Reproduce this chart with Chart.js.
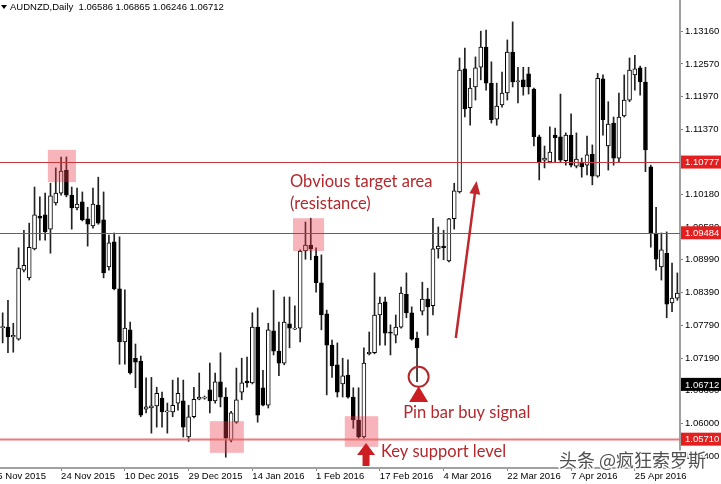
<!DOCTYPE html>
<html>
<head>
<meta charset="utf-8">
<title>AUDNZD Daily</title>
<script src="https://cdn.jsdelivr.net/npm/chart.js@4.4.1/dist/chart.umd.min.js"></script>
<style>
    html, body { margin: 0; padding: 0; background: #ffffff; }
    #wrap { width: 721px; height: 484px; position: relative; }
</style>
</head>
<body>
<div id="wrap"><canvas id="chart"></canvas></div>
<script>
// Daily AUDNZD candles (one entry per bar)
const opens = [
    1.0775, 1.0776, 1.0758, 1.0754, 1.0880, 1.0866, 1.0919, 1.0979, 1.0981, 1.0955,
    1.1003, 1.1021, 1.1063, 1.1017, 1.0994, 1.1005, 1.0974, 1.0961, 1.0999, 1.0972,
    1.0886, 1.0932, 1.0846, 1.0749, 1.0771, 1.0719, 1.0714, 1.0626, 1.0628, 1.0632,
    1.0646, 1.0621, 1.0621, 1.0637, 1.0641, 1.0575, 1.0612, 1.0644, 1.0646, 1.0661,
    1.0641, 1.0676, 1.0648, 1.0569, 1.0602, 1.0657, 1.0677, 1.0674, 1.0776, 1.0665,
    1.0633, 1.0769, 1.0732, 1.0710, 1.0782, 1.0772, 1.0774, 1.0915, 1.0926, 1.0906,
    1.0857, 1.0800, 1.0743, 1.0707, 1.0672, 1.0688, 1.0648, 1.0606, 1.0575, 1.0727,
    1.0729, 1.0798, 1.0822, 1.0767, 1.0761, 1.0776, 1.0836, 1.0802, 1.0756, 1.0805,
    1.0827, 1.0815, 1.0919, 1.0924, 1.0897, 1.0974, 1.1023, 1.1248, 1.1177, 1.1215,
    1.1251, 1.1288, 1.1222, 1.1156, 1.1182, 1.1204, 1.1279, 1.1224, 1.1228, 1.1239,
    1.1211, 1.1124, 1.1081, 1.1078, 1.1127, 1.1124, 1.1080, 1.1127, 1.1070, 1.1076,
    1.1072, 1.1092, 1.1052, 1.1230, 1.1107, 1.1149, 1.1085, 1.1162, 1.1191, 1.1237,
    1.1250, 1.1224, 1.1069, 1.0948, 1.0886, 1.0911, 1.0820, 1.0829
];
const highs = [
    1.0802, 1.0825, 1.0783, 1.0921, 1.0953, 1.0966, 1.1032, 1.1014, 1.1021, 1.1039,
    1.1067, 1.1087, 1.1087, 1.1032, 1.1030, 1.1023, 1.0995, 1.1030, 1.1050, 1.1023,
    1.0944, 1.0948, 1.0941, 1.0844, 1.0785, 1.0745, 1.0723, 1.0683, 1.0684, 1.0666,
    1.0657, 1.0637, 1.0679, 1.0683, 1.0679, 1.0633, 1.0666, 1.0692, 1.0650, 1.0710,
    1.0692, 1.0729, 1.0665, 1.0622, 1.0701, 1.0719, 1.0721, 1.0802, 1.0811, 1.0697,
    1.0783, 1.0843, 1.0785, 1.0831, 1.0831, 1.0815, 1.0917, 1.0968, 1.0975, 1.0921,
    1.0908, 1.0807, 1.0752, 1.0747, 1.0719, 1.0716, 1.0665, 1.0665, 1.0738, 1.0767,
    1.0875, 1.0831, 1.0831, 1.0780, 1.0798, 1.0849, 1.0875, 1.0813, 1.0767, 1.0858,
    1.0847, 1.0975, 1.0959, 1.0953, 1.0975, 1.1039, 1.1268, 1.1286, 1.1231, 1.1270,
    1.1317, 1.1319, 1.1261, 1.1222, 1.1242, 1.1301, 1.1334, 1.1251, 1.1251, 1.1251,
    1.1213, 1.1127, 1.1107, 1.1142, 1.1140, 1.1202, 1.1131, 1.1166, 1.1131, 1.1085,
    1.1125, 1.1109, 1.1240, 1.1237, 1.1188, 1.1160, 1.1204, 1.1237, 1.1268, 1.1273,
    1.1253, 1.1251, 1.1072, 1.0995, 1.0948, 1.0950, 1.0893, 1.0875
];
const lows = [
    1.0747, 1.0729, 1.0730, 1.0752, 1.0877, 1.0862, 1.0917, 1.0935, 1.0935, 1.0911,
    1.0999, 1.1017, 1.1014, 1.0955, 1.0990, 1.0970, 1.0924, 1.0957, 1.0964, 1.0866,
    1.0880, 1.0844, 1.0708, 1.0708, 1.0690, 1.0665, 1.0612, 1.0619, 1.0582, 1.0593,
    1.0593, 1.0582, 1.0612, 1.0624, 1.0575, 1.0567, 1.0610, 1.0643, 1.0644, 1.0619,
    1.0637, 1.0630, 1.0538, 1.0566, 1.0600, 1.0643, 1.0666, 1.0672, 1.0602, 1.0632,
    1.0628, 1.0725, 1.0687, 1.0707, 1.0738, 1.0771, 1.0749, 1.0900, 1.0899, 1.0840,
    1.0771, 1.0652, 1.0684, 1.0648, 1.0648, 1.0646, 1.0591, 1.0573, 1.0573, 1.0725,
    1.0727, 1.0743, 1.0743, 1.0725, 1.0747, 1.0774, 1.0793, 1.0752, 1.0676, 1.0798,
    1.0761, 1.0798, 1.0902, 1.0899, 1.0895, 1.0955, 1.1021, 1.1160, 1.1145, 1.1191,
    1.1228, 1.1209, 1.1149, 1.1145, 1.1178, 1.1191, 1.1215, 1.1186, 1.1200, 1.1202,
    1.1107, 1.1045, 1.1067, 1.1076, 1.1078, 1.1078, 1.1072, 1.1069, 1.1067, 1.1050,
    1.1054, 1.1036, 1.1050, 1.1127, 1.1063, 1.1072, 1.1078, 1.1160, 1.1188, 1.1209,
    1.1200, 1.1060, 1.0922, 1.0880, 1.0862, 1.0793, 1.0804, 1.0825
];
const closes = [
    1.0776, 1.0758, 1.0761, 1.0884, 1.0889, 1.0922, 1.0981, 1.0975, 1.0950, 1.1016,
    1.1021, 1.1061, 1.1017, 1.0994, 1.1001, 1.0972, 1.0964, 1.1001, 1.0966, 1.0875,
    1.0930, 1.0846, 1.0749, 1.0774, 1.0692, 1.0712, 1.0615, 1.0630, 1.0632, 1.0655,
    1.0621, 1.0622, 1.0633, 1.0655, 1.0593, 1.0612, 1.0644, 1.0648, 1.0648, 1.0641,
    1.0676, 1.0648, 1.0573, 1.0619, 1.0643, 1.0674, 1.0674, 1.0776, 1.0615, 1.0633,
    1.0771, 1.0732, 1.0710, 1.0785, 1.0774, 1.0774, 1.0915, 1.0926, 1.0919, 1.0857,
    1.0798, 1.0743, 1.0705, 1.0657, 1.0687, 1.0648, 1.0606, 1.0575, 1.0710, 1.0730,
    1.0798, 1.0820, 1.0765, 1.0765, 1.0776, 1.0838, 1.0802, 1.0754, 1.0738, 1.0827,
    1.0813, 1.0919, 1.0924, 1.0921, 1.0974, 1.1025, 1.1246, 1.1175, 1.1213, 1.1250,
    1.1288, 1.1222, 1.1155, 1.1180, 1.1204, 1.1279, 1.1224, 1.1226, 1.1215, 1.1215,
    1.1124, 1.1078, 1.1085, 1.1096, 1.1122, 1.1081, 1.1127, 1.1072, 1.1083, 1.1069,
    1.1091, 1.1052, 1.1231, 1.1155, 1.1147, 1.1085, 1.1160, 1.1191, 1.1246, 1.1248,
    1.1224, 1.1100, 1.0948, 1.0900, 1.0917, 1.0818, 1.0829, 1.0838
];

// Time axis: bar index where each date label starts
const xTickBars = [-1, 11, 23, 35, 47, 59, 71, 83, 95, 107, 119];
const xTickLabels = ['5 Nov 2015', '24 Nov 2015', '10 Dec 2015', '29 Dec 2015', '14 Jan 2016',
    '1 Feb 2016', '17 Feb 2016', '4 Mar 2016', '22 Mar 2016', '7 Apr 2016', '25 Apr 2016'];

// Price axis labels as MT4 shows them
const yTicks = [1.13160, 1.12570, 1.11970, 1.11370, 1.10780, 1.10180, 1.09580,
    1.08990, 1.08390, 1.07790, 1.07190, 1.06600, 1.06000, 1.05400];

// Horizontal levels and price tags
const levels = [1.10777, 1.09484, 1.05710];
const lastPrice = 1.06712;
const header = 'AUDNZD,Daily  1.06586 1.06865 1.06246 1.06712';

// Highlighted zones (bar range, price range)
const zones = [
    { from: 8.5, to: 13.8, top: 1.1100, bottom: 1.1041 },
    { from: 54.65, to: 60.5, top: 1.0975, bottom: 1.0915 },
    { from: 39.0, to: 45.4, top: 1.0604, bottom: 1.0546 },
    { from: 64.4, to: 70.7, top: 1.0613, bottom: 1.0557 }
];

const RED_TEXT = '#b3282d';
const FONT = '"Liberation Sans", Arial, sans-serif';

const overlayPlugin = {
    id: 'overlay',
    afterDraw(chart) {
        const { ctx, chartArea: area, scales: { x, y } } = chart;
        const px = v => x.getPixelForValue(v);
        const py = v => y.getPixelForValue(v);
        ctx.save();

        // pink zones over the candles
        ctx.fillStyle = 'rgba(235, 60, 75, 0.38)';
        zones.forEach(z => {
            const x0 = px(z.from), x1 = px(z.to);
            const y0 = py(z.top), y1 = py(z.bottom);
            ctx.fillRect(x0, y0, x1 - x0, y1 - y0);
        });

        // level lines
        levels.forEach((lv, i) => {
            const yy = Math.round(py(lv)) + 0.5;
            ctx.beginPath();
            if (i === levels.length - 1) {
                ctx.strokeStyle = 'rgba(232, 100, 105, 0.85)';
                ctx.lineWidth = 2;
            } else {
                ctx.strokeStyle = '#c4383c';
                ctx.lineWidth = 1;
            }
            ctx.moveTo(area.left, yy);
            ctx.lineTo(area.right, yy);
            ctx.stroke();
        });

        // price tags on the right axis
        const tag = (v, fill) => {
            const yy = py(v);
            ctx.fillStyle = fill;
            ctx.fillRect(area.right + 1, yy - 6.5, 41, 13);
            ctx.fillStyle = '#ffffff';
            ctx.font = '9.5px ' + FONT;
            ctx.textAlign = 'left';
            ctx.textBaseline = 'middle';
            ctx.fillText(v.toFixed(5), area.right + 5, yy + 0.5);
        };
        levels.forEach(lv => tag(lv, '#e41f1f'));
        tag(lastPrice, '#000000');

        // annotation texts
        ctx.fillStyle = RED_TEXT;
        ctx.font = '16.5px Lato, ' + FONT;
        ctx.textAlign = 'left';
        ctx.textBaseline = 'middle';
        ctx.fillText('Obvious target area', px(54.1), py(1.1041));
        ctx.fillText('(resistance)', px(54.1), py(1.1002));
        ctx.fillText('Pin bar buy signal', px(75.4), py(1.0619));
        ctx.fillText('Key support level', px(71.2), py(1.0549));

        // circle + triangle under the pin bar
        const cx = px(78.3);
        ctx.strokeStyle = RED_TEXT;
        ctx.lineWidth = 2;
        ctx.beginPath();
        ctx.arc(cx, py(1.0685), 10, 0, Math.PI * 2);
        ctx.stroke();
        ctx.fillStyle = '#cc1d22';
        ctx.beginPath();
        ctx.moveTo(cx, py(1.0668));
        ctx.lineTo(cx + 9.5, py(1.0639));
        ctx.lineTo(cx - 9.5, py(1.0639));
        ctx.closePath();
        ctx.fill();

        // long arrow to the target area
        const ax0 = px(85.3), ay0 = py(1.0756);
        const ax1 = px(89.2), ay1 = py(1.1043);
        const ang = Math.atan2(ay1 - ay0, ax1 - ax0);
        ctx.strokeStyle = '#c0282d';
        ctx.lineWidth = 2.5;
        ctx.beginPath();
        ctx.moveTo(ax0, ay0);
        ctx.lineTo(ax1 - 10 * Math.cos(ang), ay1 - 10 * Math.sin(ang));
        ctx.stroke();
        ctx.fillStyle = '#c0282d';
        ctx.beginPath();
        ctx.moveTo(ax1, ay1);
        ctx.lineTo(ax1 - 13 * Math.cos(ang) + 5.5 * Math.sin(ang), ay1 - 13 * Math.sin(ang) - 5.5 * Math.cos(ang));
        ctx.lineTo(ax1 - 13 * Math.cos(ang) - 5.5 * Math.sin(ang), ay1 - 13 * Math.sin(ang) + 5.5 * Math.cos(ang));
        ctx.closePath();
        ctx.fill();

        // up arrow under the support zone
        const sx = px(68.4);
        const tip = py(1.0564), base = py(1.0542), foot = py(1.0522);
        ctx.fillStyle = '#cc1d22';
        ctx.beginPath();
        ctx.moveTo(sx, tip);
        ctx.lineTo(sx + 9, base);
        ctx.lineTo(sx + 3.5, base);
        ctx.lineTo(sx + 3.5, foot);
        ctx.lineTo(sx - 3.5, foot);
        ctx.lineTo(sx - 3.5, base);
        ctx.lineTo(sx - 9, base);
        ctx.closePath();
        ctx.fill();

        // header (symbol + OHLC)
        ctx.fillStyle = '#000000';
        ctx.beginPath();
        ctx.moveTo(1, 5);
        ctx.lineTo(7, 5);
        ctx.lineTo(4, 9);
        ctx.closePath();
        ctx.fill();
        ctx.font = '9.5px ' + FONT;
        ctx.textBaseline = 'middle';
        ctx.fillText(header, 10, 7);

        // watermark
        ctx.font = '18px "Noto Sans CJK SC", sans-serif';
        ctx.textBaseline = 'middle';
        ctx.lineWidth = 3;
        ctx.strokeStyle = 'rgba(255, 255, 255, 0.9)';
        ctx.strokeText('头条 @疯狂索罗斯', 559, 460);
        ctx.fillStyle = 'rgba(60, 60, 60, 0.9)';
        ctx.fillText('头条 @疯狂索罗斯', 559, 460);

        ctx.restore();
    }
};

Chart.defaults.font.family = FONT;
Chart.defaults.font.size = 9.5;
Chart.defaults.color = '#000000';

const ctx = document.getElementById('chart');
new Chart(ctx, {
    type: 'bar',
    data: {
        labels: opens.map((_, i) => i),
        datasets: [
            {
                // candle bodies
                data: opens.map((o, i) => [o, closes[i]]),
                backgroundColor: opens.map((o, i) => closes[i] >= o ? '#ffffff' : '#000000'),
                borderColor: '#000000',
                borderWidth: 1,
                borderSkipped: false,
                barThickness: 4,
                minBarLength: 1,
                grouped: false,
                order: 0
            },
            {
                // wicks
                data: lows.map((l, i) => [l, highs[i]]),
                backgroundColor: '#222222',
                borderWidth: 0,
                barThickness: 1,
                grouped: false,
                order: 1
            }
        ]
    },
    options: {
        responsive: true,
        maintainAspectRatio: false,
        devicePixelRatio: 1,
        animation: false,
        events: [],
        layout: { padding: 0 },
        plugins: {
            legend: { display: false },
            tooltip: { enabled: false }
        },
        scales: {
            x: {
                offset: true,
                grid: { drawOnChartArea: false, offset: false, tickLength: 3, color: '#808080' },
                border: { display: true, color: '#a0a0a0', width: 2 },
                ticks: {
                    autoSkip: false,
                    maxRotation: 0,
                    minRotation: 0,
                    align: 'start',
                    padding: 0,
                    callback: value => {
                        const k = xTickBars.indexOf(value);
                        return k >= 0 ? xTickLabels[k] : '';
                    }
                },
                afterBuildTicks: scale => {
                    scale.ticks = xTickBars.map(v => ({ value: v }));
                },
                afterFit: scale => {
                    scale.height = 16;
                    scale.paddingLeft = 0;
                    scale.paddingRight = 0;
                }
            },
            y: {
                position: 'right',
                min: 1.05183,
                max: 1.13740,
                bounds: 'data',
                grid: { drawOnChartArea: false, tickLength: 3, color: '#808080' },
                border: { display: true, color: '#a0a0a0', width: 2 },
                ticks: {
                    padding: 2,
                    callback: v => Number(v).toFixed(5)
                },
                afterBuildTicks: scale => {
                    scale.ticks = yTicks.map(v => ({ value: v }));
                },
                afterFit: scale => {
                    scale.width = 41;
                    scale.paddingTop = 0;
                    scale.paddingBottom = 0;
                }
            }
        }
    },
    plugins: [overlayPlugin]
});
</script>
</body>
</html>
